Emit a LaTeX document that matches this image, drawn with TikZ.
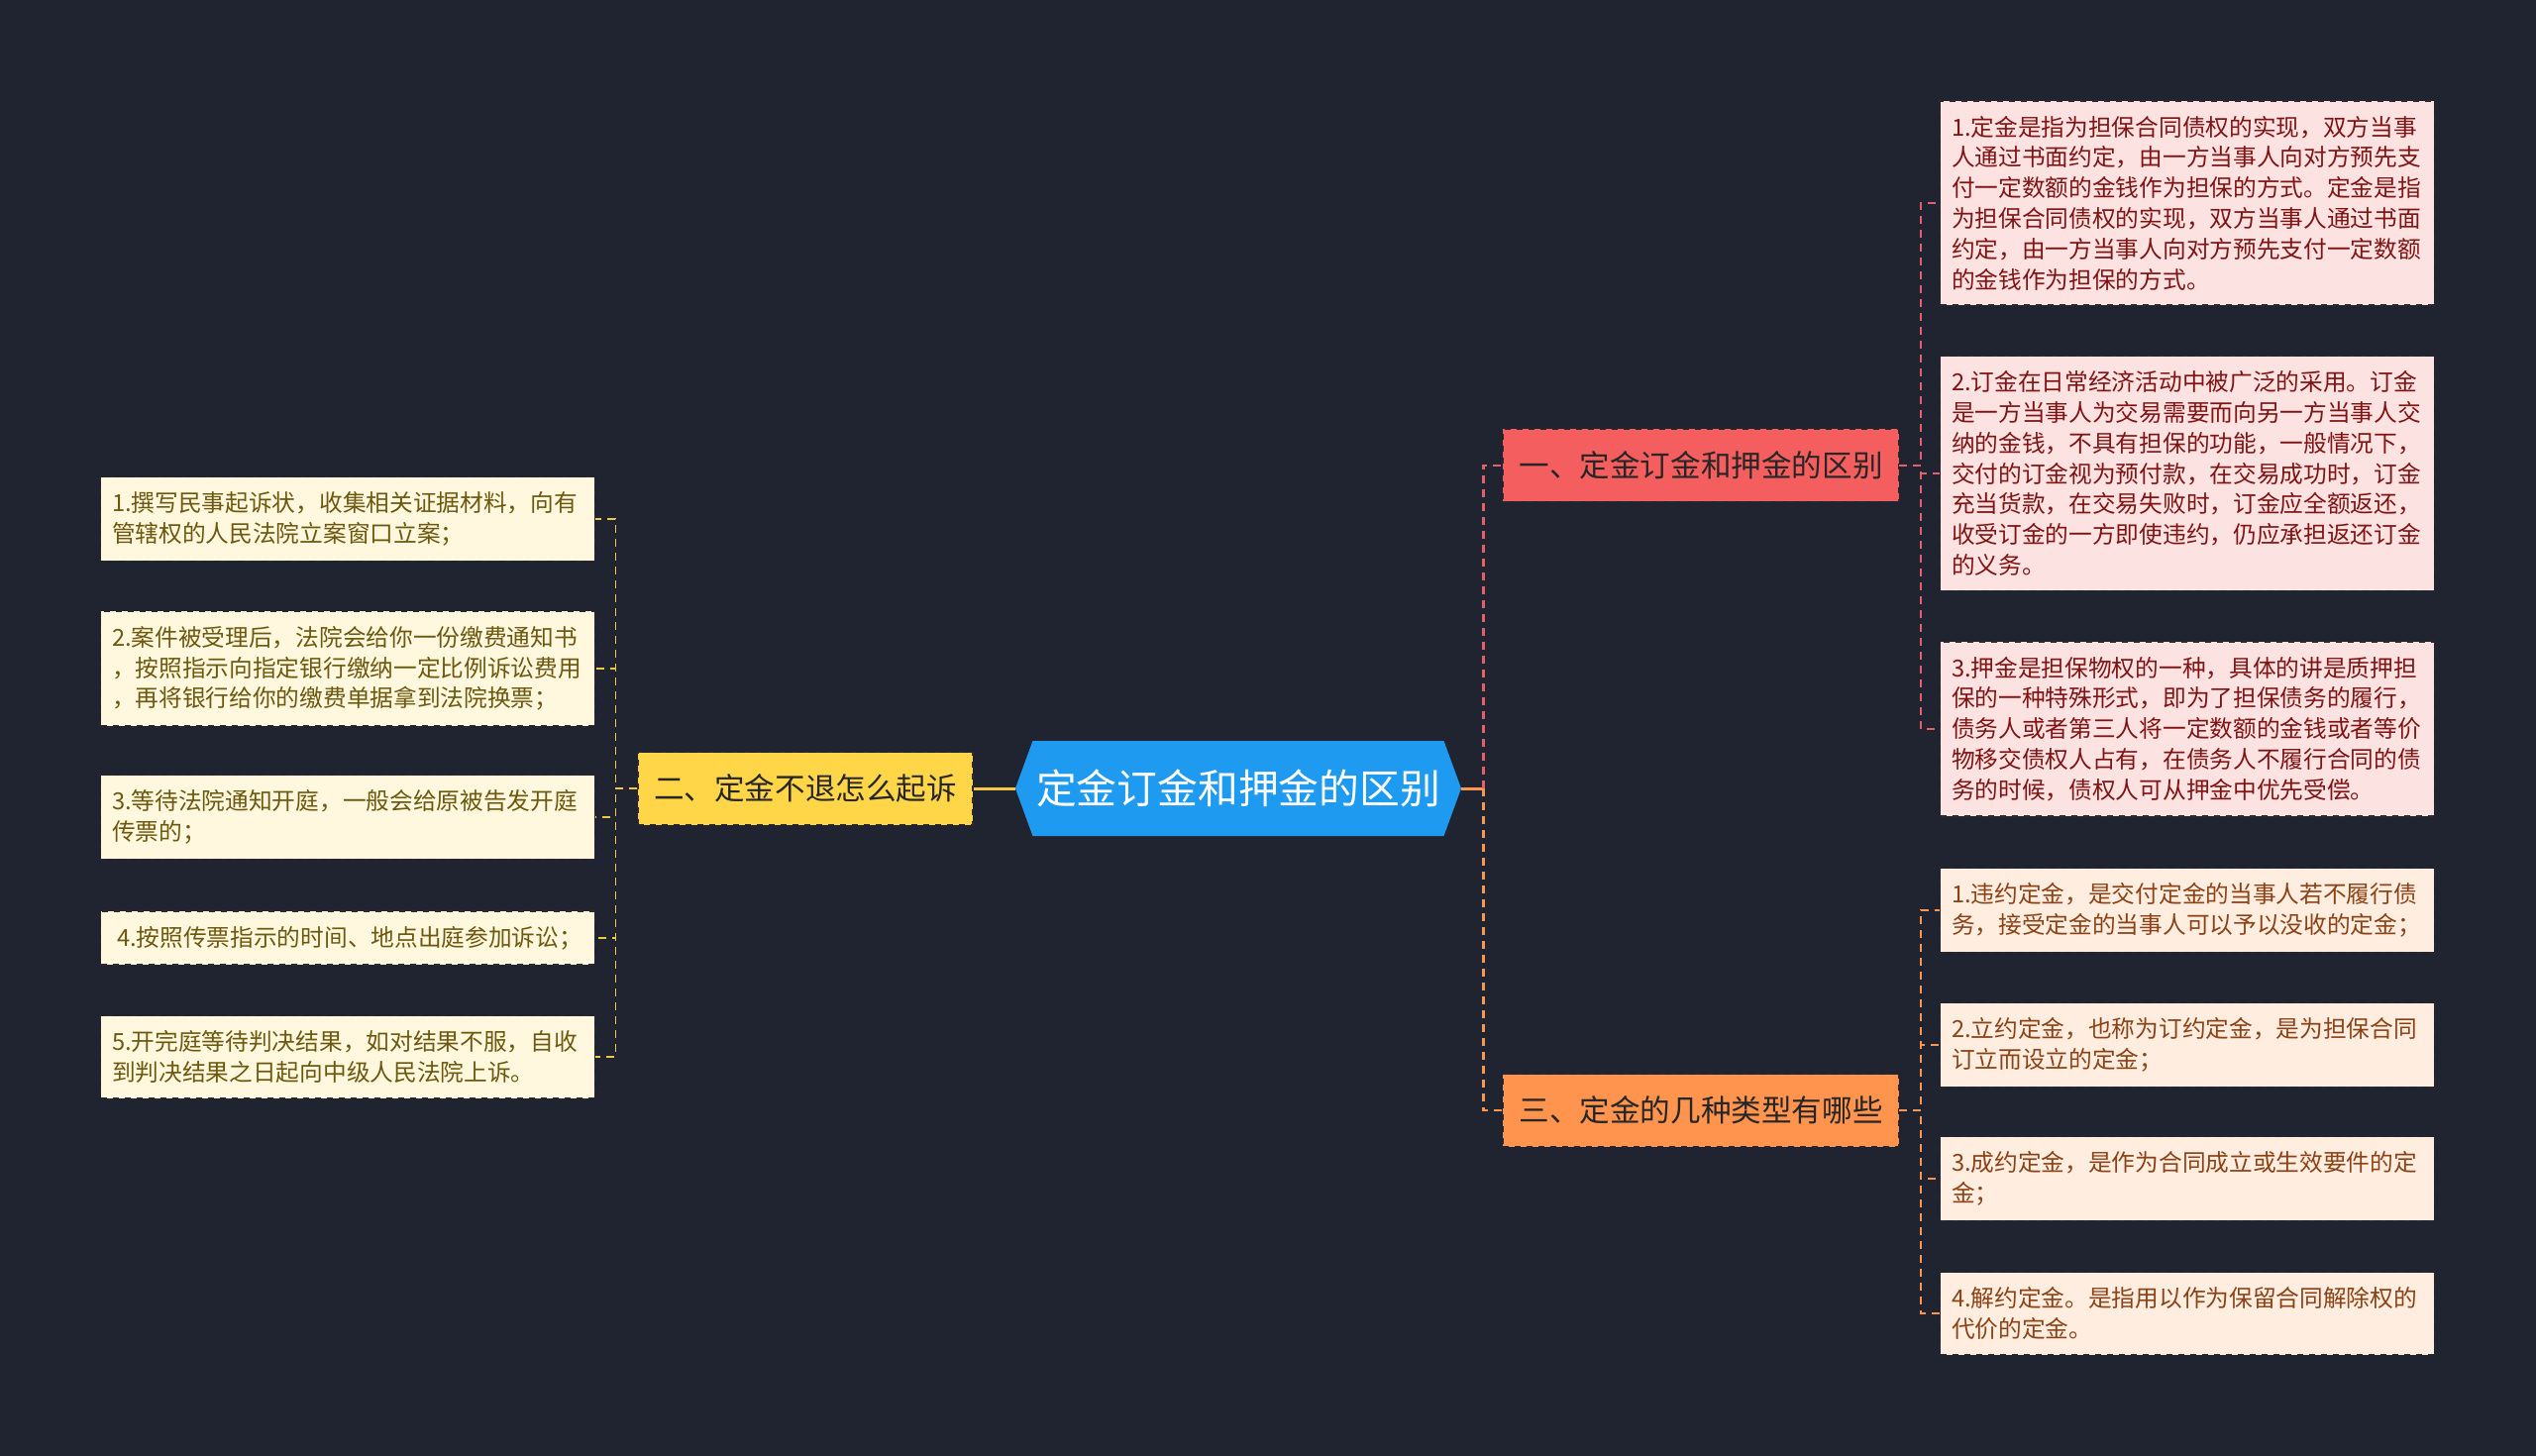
\documentclass[tikz,border=0pt]{standalone}
\usepackage{fontspec}
\setmainfont{Noto Sans CJK SC}
\usetikzlibrary{shapes.symbols,positioning}
\definecolor{bgnavy}{RGB}{32,35,48}
\definecolor{hubblue}{RGB}{30,155,240}
\definecolor{edgedark}{RGB}{45,40,45}
\definecolor{branchred}{RGB}{244,94,94}
\definecolor{branchyellow}{RGB}{255,214,72}
\definecolor{branchorange}{RGB}{255,148,78}
\definecolor{leafpink}{RGB}{253,226,226}
\definecolor{leafpeach}{RGB}{255,237,224}
\definecolor{leafcream}{RGB}{255,248,222}
\definecolor{textred}{RGB}{128,20,20}
\definecolor{textbrown}{RGB}{138,66,22}
\definecolor{textolive}{RGB}{108,88,14}
\definecolor{linkred}{RGB}{226,96,104}
\definecolor{linkorange}{RGB}{250,150,80}
\definecolor{linkyellow}{RGB}{240,200,70}

\begin{document}
\begin{tikzpicture}[x=0.5pt, y=-0.5pt,
  hub/.style={signal, signal to=west and east, signal pointer angle=140, fill=hubblue, text=white, minimum width=225pt, minimum height=48pt, inner sep=0pt, font=\fontsize{20.4}{24}\selectfont},
  branch/.style={draw=edgedark, dashed, rectangle, minimum height=36.5pt, inner xsep=8pt, line width=0.6pt, text=black!85, font=\fontsize{15.3}{18}\selectfont},
  leaf/.style={draw=edgedark, dashed, rectangle, align=left, text width=238pt, inner xsep=5.7pt, inner ysep=7.5pt, line width=0.6pt, font=\fontsize{11.85}{15.4}\selectfont},
  link/.style={dash pattern=on 4pt off 3pt, line width=0.8pt}
]
\fill[bgnavy] (0,0) rectangle (2560,1470);
\useasboundingbox (0,0) rectangle (2560,1470);

% centre and main branches
\node[hub] (hub) at (1250,796) {定金订金和押金的区别};
\node[branch, fill=branchred] (b1) at (1717,470) {一、定金订金和押金的区别};
\node[branch, fill=branchyellow] (b2) at (813,796) {二、定金不退怎么起诉};
\node[branch, fill=branchorange] (b3) at (1717,1121) {三、定金的几种类型有哪些};

% right side, branch 1
\node[leaf, fill=leafpink, text=textred] (r11) at (2208,205) {1.定金是指为担保合同债权的实现，双方当事\\人通过书面约定，由一方当事人向对方预先支\\付一定数额的金钱作为担保的方式。定金是指\\为担保合同债权的实现，双方当事人通过书面\\约定，由一方当事人向对方预先支付一定数额\\的金钱作为担保的方式。};
\node[leaf, fill=leafpink, text=textred] (r12) at (2208,478) {2.订金在日常经济活动中被广泛的采用。订金\\是一方当事人为交易需要而向另一方当事人交\\纳的金钱，不具有担保的功能，一般情况下，\\交付的订金视为预付款，在交易成功时，订金\\充当货款，在交易失败时，订金应全额返还，\\收受订金的一方即使违约，仍应承担返还订金\\的义务。};
\node[leaf, fill=leafpink, text=textred] (r13) at (2208,736) {3.押金是担保物权的一种，具体的讲是质押担\\保的一种特殊形式，即为了担保债务的履行，\\债务人或者第三人将一定数额的金钱或者等价\\物移交债权人占有，在债务人不履行合同的债\\务的时候，债权人可从押金中优先受偿。};

% right side, branch 3
\node[leaf, fill=leafpeach, text=textbrown] (r31) at (2208,919) {1.违约定金，是交付定金的当事人若不履行债\\务，接受定金的当事人可以予以没收的定金；};
\node[leaf, fill=leafpeach, text=textbrown] (r32) at (2208,1055) {2.立约定金，也称为订约定金，是为担保合同\\订立而设立的定金；};
\node[leaf, fill=leafpeach, text=textbrown] (r33) at (2208,1190) {3.成约定金，是作为合同成立或生效要件的定\\金；};
\node[leaf, fill=leafpeach, text=textbrown] (r34) at (2208,1326) {4.解约定金。是指用以作为保留合同解除权的\\代价的定金。};

% left side, branch 2
\node[leaf, fill=leafcream, text=textolive] (l1) at (351,524) {1.撰写民事起诉状，收集相关证据材料，向有\\管辖权的人民法院立案窗口立案；};
\node[leaf, fill=leafcream, text=textolive] (l2) at (351,675) {2.案件被受理后，法院会给你一份缴费通知书\\，按照指示向指定银行缴纳一定比例诉讼费用\\，再将银行给你的缴费单据拿到法院换票；};
\node[leaf, fill=leafcream, text=textolive] (l3) at (351,825) {3.等待法院通知开庭，一般会给原被告发开庭\\传票的；};
\node[leaf, fill=leafcream, text=textolive] (l4) at (351,947) {\hspace{2.5pt}4.按照传票指示的时间、地点出庭参加诉讼；};
\node[leaf, fill=leafcream, text=textolive] (l5) at (351,1067) {5.开完庭等待判决结果，如对结果不服，自收\\到判决结果之日起向中级人民法院上诉。};

% connectors
\draw[linkyellow, line width=1.5pt] (hub.west) -- (b2.east);
\draw[linkorange, line width=1.5pt] (hub.east) -- ++(11pt,0) coordinate (hubr);
\draw[link, linkred, line width=1.3pt] (hubr) |- (b1.west);
\draw[link, linkorange, line width=1.3pt] (hubr) |- (b3.west);
\foreach \n in {r11,r12,r13}
  \draw[link, linkred] (b1.east) -- ++(11pt,0) |- (\n.west);
\foreach \n in {r31,r32,r33,r34}
  \draw[link, linkorange] (b3.east) -- ++(11pt,0) |- (\n.west);
\foreach \n in {l1,l2,l3,l4,l5}
  \draw[link, linkyellow] (b2.west) -- ++(-11pt,0) |- (\n.east);
\end{tikzpicture}
\end{document}
